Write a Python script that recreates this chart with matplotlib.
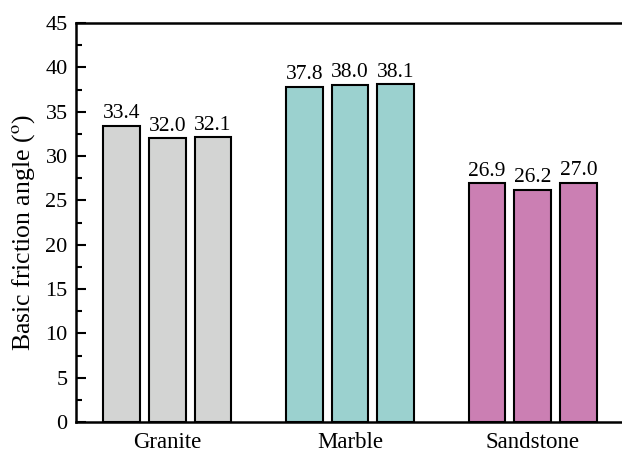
import numpy as np
import matplotlib
matplotlib.use("Agg")
import matplotlib.pyplot as plt

rocks = ["Granite", "Marble", "Sandstone"]
friction_angles = [
    [33.4, 32.0, 32.1],
    [37.8, 38.0, 38.1],
    [26.9, 26.2, 27.0],
]
colors = ["#D3D4D3", "#9BD1CF", "#CB7FB3"]

plt.rcParams["font.family"] = "Liberation Serif"
plt.rcParams["mathtext.fontset"] = "stix"

fig = plt.figure(figsize=(6.22, 4.53), dpi=100)
ax = fig.add_axes([76 / 622, 31 / 453, 548 / 622, 399 / 453])

width = 0.2
step = 0.25
x = np.arange(len(rocks))
for i, (vals, c) in enumerate(zip(friction_angles, colors)):
    for j, v in enumerate(vals):
        xpos = x[i] + (j - 1) * step
        ax.bar(xpos, v, width=width, color=c, edgecolor="black", linewidth=1.5)
        ax.text(xpos, v + 0.3, f"{v:.1f}", ha="center", va="bottom", fontsize=15.5)

ax.set_xlim(-0.5, 2.5)
ax.set_ylim(0, 45)
ax.set_yticks(np.arange(0, 46, 5))
ax.set_yticks(np.arange(2.5, 45, 5), minor=True)
ax.set_xticks(x)
ax.set_xticklabels(rocks, fontsize=16.5)
ax.tick_params(axis="y", which="major", direction="in", length=7, width=1.5,
               labelsize=16, pad=6)
ax.tick_params(axis="y", which="minor", direction="in", length=4, width=1.5)
ax.tick_params(axis="x", length=0, pad=7)
ax.set_ylabel(r"Basic friction angle ($^{\mathrm{o}}$)", fontsize=18.5, labelpad=6)
ax.yaxis.label.set_y(0.475)
for s in ax.spines.values():
    s.set_linewidth(1.8)

fig.savefig("out.png", dpi=100)
